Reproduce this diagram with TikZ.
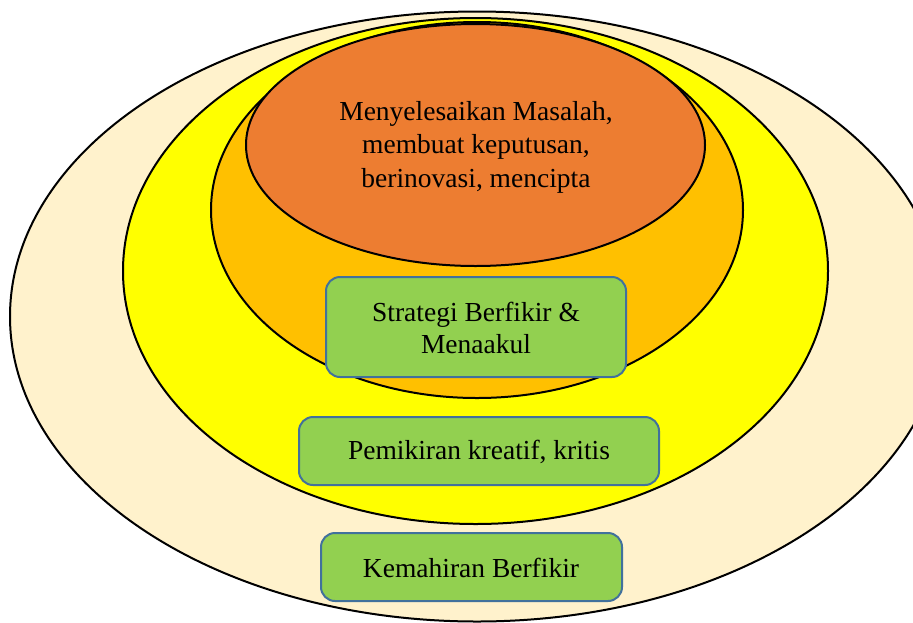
\documentclass[tikz,border=0pt]{standalone}
\usepackage{fontspec}
\setmainfont{Liberation Serif}
\definecolor{outerc}{HTML}{FFF2CC}
\definecolor{yellowc}{HTML}{FFFF00}
\definecolor{amberc}{HTML}{FFC000}
\definecolor{orangec}{HTML}{ED7D31}
\definecolor{boxfill}{HTML}{92D050}
\definecolor{boxline}{HTML}{41719C}
\begin{document}
\begin{tikzpicture}[x=1pt,y=-1pt,
  ring/.style={draw=black,line width=2pt},
  greenbox/.style={draw=boxline,fill=boxfill,line width=2pt,rounded corners=14pt},
  lbl/.style={align=center,font=\fontsize{27.5}{33.5}\selectfont,text=black,inner sep=0pt}]
\useasboundingbox (0,0) rectangle (913,622);
\begin{scope}
\clip (0,0) rectangle (913,622);
\draw[ring,fill=outerc] (477,316.5) ellipse [x radius=467,y radius=305];
\end{scope}
\draw[ring,fill=yellowc] (475.5,271) ellipse [x radius=352.5,y radius=253];
\draw[ring,fill=amberc] (477,210) ellipse [x radius=266,y radius=188];
\draw[ring,fill=orangec] (475.5,145) ellipse [x radius=229.5,y radius=121];
\node[lbl] (top) at (476,147) {Menyelesaikan Masalah,\\membuat keputusan,\\berinovasi, mencipta};
\draw[greenbox] (326,277) rectangle (626,377);
\node[lbl,font=\fontsize{27.5}{32}\selectfont] (b1) at (476,328) {Strategi Berfikir \&\\Menaakul};
\draw[greenbox] (299,417) rectangle (659,485);
\node[lbl] (b2) at (479,452) {Pemikiran kreatif, kritis};
\draw[greenbox] (321,533) rectangle (622,601);
\node[lbl] (b3) at (471,568) {Kemahiran Berfikir};
\end{tikzpicture}
\end{document}
